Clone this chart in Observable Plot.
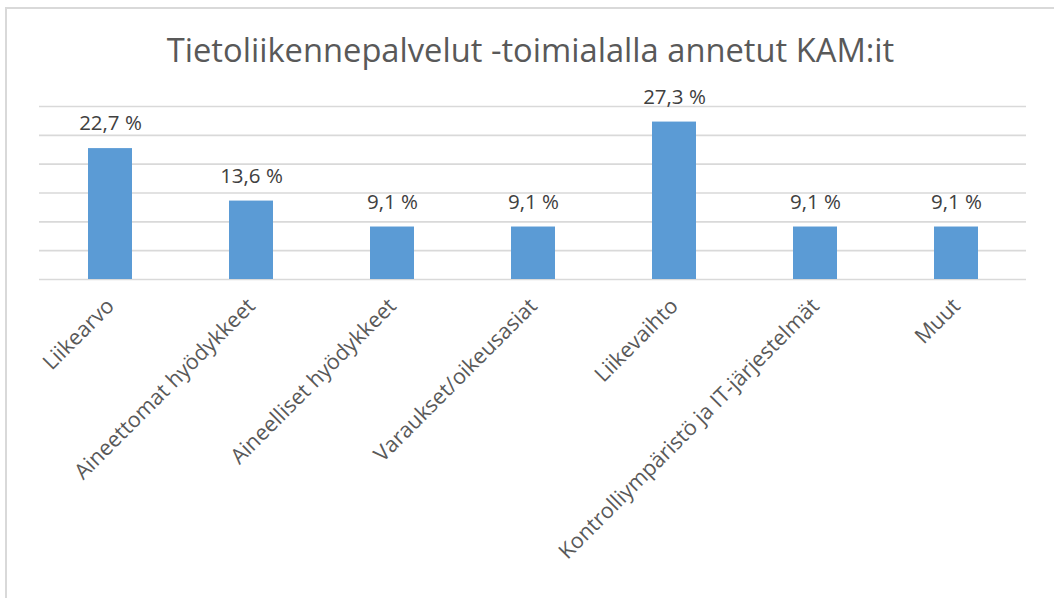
<!DOCTYPE html>
<html>
<head>
<meta charset="utf-8">
<script src="https://cdn.jsdelivr.net/npm/d3@7"></script>
<script src="https://cdn.jsdelivr.net/npm/@observablehq/plot@0.6"></script>
<style>
  html, body { margin: 0; padding: 0; background: #fff; }
  #wrap { position: relative; width: 1054px; height: 598px; overflow: hidden; background: #fff; font-family: "Open Sans", sans-serif; }
  #frame { position: absolute; left: 5px; top: 7px; width: 1100px; height: 700px; border-left: 2px solid #d9d9d9; border-top: 2px solid #d9d9d9; box-sizing: border-box; }
  #title { position: absolute; left: 0; top: 30px; width: 1061px; text-align: center; font-size: 32.7px; color: #595959; font-family: "Open Sans", sans-serif; line-height: 40px; white-space: nowrap; }
  #chart { position: absolute; left: 0; top: 90px; }
</style>
</head>
<body>
<div id="wrap">
  <div id="frame"></div>
  <div id="title">Tietoliikennepalvelut -toimialalla annetut KAM:it</div>
  <div id="chart"></div>
</div>
<script>
const categories = ["Liikearvo", "Aineettomat hyödykkeet", "Aineelliset hyödykkeet", "Varaukset/oikeusasiat", "Liikevaihto", "Kontrolliympäristö ja IT-järjestelmät", "Muut"];
const values = [22.7, 13.6, 9.1, 9.1, 27.3, 9.1, 9.1];
const valueLabels = ["22,7 %", "13,6 %", "9,1 %", "9,1 %", "27,3 %", "9,1 %", "9,1 %"];
const gridTicks = [0, 5, 10, 15, 20, 25, 30];

const data = categories.map((c, i) => ({ category: c, value: values[i], label: valueLabels[i] }));

const chart = Plot.plot({
  width: 1054,
  height: 508,
  marginLeft: 39,
  marginRight: 28,
  marginTop: 16,
  marginBottom: 319,
  style: { fontFamily: "Open Sans, sans-serif", background: "transparent", overflow: "visible" },
  x: { domain: categories, paddingInner: 0.69, paddingOuter: 0.345, label: null },
  y: { domain: [0, 30], label: null, axis: null },
  marks: [
    Plot.ruleY(gridTicks, { stroke: "#d9d9d9", strokeWidth: 1.6 }),
    Plot.barY(data, { x: "category", y: "value", fill: "#5b9bd5" }),
    Plot.text(data, { x: "category", y: "value", text: "label", dy: -25, fontSize: 20.5, fill: "#404040" }),
    Plot.axisX({ tickSize: 0, tickPadding: 23, tickRotate: -45, fontSize: 21.5, fill: "#595959", label: null })
  ]
});
document.getElementById("chart").appendChild(chart);
</script>
</body>
</html>
